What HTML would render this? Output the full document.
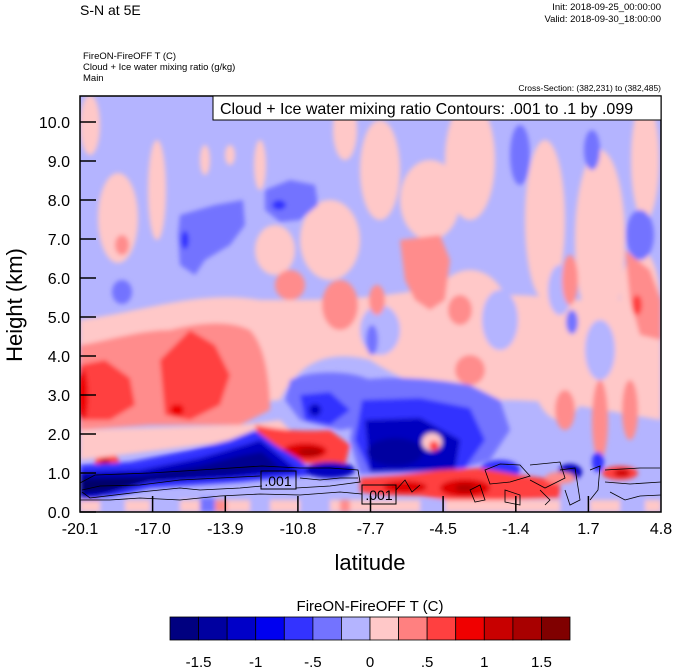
<!DOCTYPE html>
<html><head><meta charset="utf-8"><style>
body{margin:0;background:#fff;}
svg{display:block;font-family:"Liberation Sans",Arial,sans-serif;}
</style></head><body>
<svg width="674" height="668" viewBox="0 0 674 668" xmlns="http://www.w3.org/2000/svg">
<defs>
<clipPath id="pc"><rect x="80" y="96" width="581" height="416"/></clipPath>
<filter id="bl" x="-5%" y="-5%" width="110%" height="110%"><feGaussianBlur stdDeviation="2.5"/></filter>
</defs>
<g clip-path="url(#pc)">
<rect x="80" y="96" width="581" height="416" fill="#b4b4ff"/>
<g filter="url(#bl)">
<ellipse cx="90" cy="125" rx="10" ry="30" fill="#ffc8c8"/>
<ellipse cx="157" cy="190" rx="9" ry="50" fill="#ffc8c8"/>
<ellipse cx="118" cy="218" rx="20" ry="45" fill="#ffc8c8"/>
<ellipse cx="122" cy="245" rx="7" ry="10" fill="#ff8c8c"/>
<ellipse cx="205" cy="160" rx="5" ry="15" fill="#ffc8c8"/>
<ellipse cx="230" cy="155" rx="5" ry="10" fill="#ffc8c8"/>
<ellipse cx="260" cy="165" rx="6" ry="25" fill="#ffc8c8"/>
<ellipse cx="275" cy="250" rx="20" ry="25" fill="#ffc8c8"/>
<ellipse cx="330" cy="240" rx="30" ry="40" fill="#ffc8c8"/>
<ellipse cx="345" cy="130" rx="12" ry="30" fill="#ffc8c8"/>
<ellipse cx="380" cy="170" rx="20" ry="50" fill="#ffc8c8"/>
<ellipse cx="430" cy="200" rx="30" ry="40" fill="#ffc8c8"/>
<ellipse cx="470" cy="160" rx="25" ry="60" fill="#ffc8c8"/>
<ellipse cx="545" cy="220" rx="20" ry="80" fill="#ffc8c8"/>
<ellipse cx="600" cy="240" rx="25" ry="90" fill="#ffc8c8"/>
<ellipse cx="645" cy="160" rx="14" ry="60" fill="#ffc8c8"/>
<ellipse cx="640" cy="300" rx="20" ry="50" fill="#ffc8c8"/>
<path d="M80 320 C150 310 200 290 260 300 C320 300 360 300 420 290 C480 300 520 290 560 300 C600 300 640 300 661 300 L661 420 C600 410 560 400 500 400 C450 400 400 380 370 360 C330 350 300 360 280 400 L80 420 Z" fill="#ffc8c8"/>
<ellipse cx="470" cy="320" rx="40" ry="50" fill="#ffc8c8"/>
<ellipse cx="560" cy="360" rx="30" ry="60" fill="#ffc8c8"/>
<ellipse cx="500" cy="320" rx="18" ry="30" fill="#b4b4ff"/>
<ellipse cx="380" cy="330" rx="20" ry="25" fill="#b4b4ff"/>
<ellipse cx="600" cy="350" rx="15" ry="30" fill="#b4b4ff"/>
<ellipse cx="560" cy="290" rx="12" ry="25" fill="#b4b4ff"/>
<path d="M400 240 L440 235 L450 260 L445 300 L430 310 L415 300 L405 280 Z" fill="#ff8c8c"/>
<ellipse cx="460" cy="310" rx="12" ry="15" fill="#ff8c8c"/>
<ellipse cx="570" cy="280" rx="8" ry="25" fill="#ff8c8c"/>
<path d="M625 250 L650 270 L661 300 L661 340 L640 335 L630 300 Z" fill="#ff8c8c"/>
<ellipse cx="637" cy="305" rx="5" ry="10" fill="#ff4040"/>
<ellipse cx="600" cy="420" rx="8" ry="40" fill="#ff8c8c"/>
<ellipse cx="630" cy="410" rx="8" ry="30" fill="#ff8c8c"/>
<ellipse cx="565" cy="410" rx="10" ry="20" fill="#ff8c8c"/>
<ellipse cx="470" cy="370" rx="15" ry="15" fill="#ff8c8c"/>
<ellipse cx="377" cy="300" rx="8" ry="15" fill="#ff8c8c"/>
<ellipse cx="290" cy="285" rx="15" ry="15" fill="#ff8c8c"/>
<ellipse cx="340" cy="305" rx="18" ry="25" fill="#ff8c8c"/>
<path d="M180 215 L215 205 L243 200 L245 225 L230 245 L205 260 L195 275 L180 265 L178 235 Z" fill="#7373ff"/>
<ellipse cx="185" cy="240" rx="4" ry="9" fill="#3030ff"/>
<path d="M265 190 L290 180 L315 185 L318 205 L300 220 L280 222 L265 210 Z" fill="#7373ff"/>
<ellipse cx="279" cy="205" rx="7" ry="5" fill="#3030ff"/>
<ellipse cx="122" cy="292" rx="10" ry="12" fill="#7373ff"/>
<ellipse cx="520" cy="155" rx="10" ry="30" fill="#7373ff"/>
<ellipse cx="592" cy="150" rx="8" ry="20" fill="#7373ff"/>
<ellipse cx="640" cy="235" rx="14" ry="25" fill="#7373ff"/>
<ellipse cx="572" cy="322" rx="6" ry="12" fill="#7373ff"/>
<ellipse cx="372" cy="340" rx="6" ry="15" fill="#7373ff"/>
<path d="M80 345 C110 340 140 330 170 330 C200 322 230 320 250 330 C265 345 270 380 270 410 L240 425 L150 425 L80 430 Z" fill="#ff8c8c"/>
<path d="M80 365 L105 360 L130 378 L135 405 L110 420 L80 420 Z" fill="#ff4040"/>
<path d="M160 360 L190 330 L215 345 L230 375 L220 405 L190 420 L165 415 Z" fill="#ff4040"/>
<ellipse cx="177" cy="410" rx="7" ry="6" fill="#ee0000"/>
<ellipse cx="83" cy="395" rx="5" ry="25" fill="#ee0000"/>
<ellipse cx="107" cy="462" rx="12" ry="9" fill="#ff4040"/>
<ellipse cx="105" cy="462" rx="5" ry="4" fill="#c80000"/>
<ellipse cx="140" cy="445" rx="20" ry="6" fill="#b4b4ff"/>
<path d="M80 430 L240 425 L280 420 L300 440 L260 440 L200 445 L80 460 Z" fill="#ffc8c8"/>
<path d="M290 380 C310 370 350 370 370 380 L380 400 L370 425 L340 430 L300 420 L285 400 Z" fill="#7373ff"/>
<path d="M300 395 L330 392 L350 410 L330 425 L305 420 Z" fill="#3030ff"/>
<ellipse cx="315" cy="410" rx="6" ry="6" fill="#0000c0"/>
<path d="M360 380 C400 375 440 380 470 385 L500 400 L510 430 L490 460 L450 472 L360 474 L350 440 Z" fill="#7373ff"/>
<path d="M362 400 L420 398 L470 408 L485 440 L465 468 L370 472 L355 440 Z" fill="#3030ff"/>
<path d="M365 420 L420 418 L460 440 L455 470 L370 472 Z" fill="#0000c0"/>
<ellipse cx="395" cy="452" rx="28" ry="14" fill="#0000a0"/>
<ellipse cx="432" cy="442" rx="10" ry="9" fill="#ffc8c8"/>
<ellipse cx="434" cy="446" rx="5" ry="5" fill="#ff4040"/>
<ellipse cx="500" cy="470" rx="20" ry="10" fill="#3030ff"/>
<ellipse cx="570" cy="472" rx="12" ry="8" fill="#0000c0"/>
<ellipse cx="598" cy="462" rx="6" ry="10" fill="#3030ff"/>
<path d="M255 425 C280 430 300 432 330 430 L350 445 L345 465 L300 463 L270 455 L260 440 Z" fill="#ff4040"/>
<ellipse cx="305" cy="451" rx="22" ry="8" fill="#e00000"/>
<ellipse cx="310" cy="452" rx="12" ry="4" fill="#b00000"/>
<path d="M80 465 L130 462 L190 450 L230 440 L255 430 L275 445 L300 460 L315 475 L240 482 L150 488 L100 500 L80 502 Z" fill="#3030ff"/>
<path d="M80 472 L140 470 L200 458 L245 445 L260 440 L285 460 L300 472 L230 478 L150 482 L100 496 L80 498 Z" fill="#0000c0"/>
<path d="M80 476 L140 476 L200 466 L240 456 L262 452 L280 468 L230 475 L150 480 L110 492 L80 495 Z" fill="#000090"/>
<path d="M82 480 L150 478 L200 470 L165 478 L100 490 L82 492 Z" fill="#00006a"/>
<ellipse cx="330" cy="470" rx="25" ry="8" fill="#0000c0"/>
<path d="M360 478 L400 475 L440 470 L480 468 L520 475 L560 480 L560 498 L500 500 L460 502 L420 496 L380 495 L360 492 Z" fill="#ff4040"/>
<ellipse cx="465" cy="488" rx="25" ry="9" fill="#e00000"/>
<ellipse cx="465" cy="488" rx="10" ry="4" fill="#b00000"/>
<ellipse cx="405" cy="487" rx="22" ry="6" fill="#e00000"/>
<ellipse cx="620" cy="473" rx="18" ry="7" fill="#ff4040"/>
<ellipse cx="622" cy="473" rx="8" ry="4" fill="#d00000"/>
<ellipse cx="560" cy="478" rx="15" ry="6" fill="#ff8c8c"/>
<rect x="80" y="500" width="581" height="12" fill="#ffc8c8"/>
<rect x="100" y="498" width="25" height="14" fill="#b4b4ff"/>
<rect x="150" y="498" width="30" height="14" fill="#b4b4ff"/>
<rect x="200" y="498" width="15" height="14" fill="#7373ff"/>
<rect x="250" y="498" width="20" height="14" fill="#b4b4ff"/>
<rect x="215" y="500" width="12" height="12" fill="#ff8c8c"/>
<rect x="300" y="498" width="30" height="14" fill="#b4b4ff"/>
<rect x="340" y="500" width="10" height="12" fill="#ff8c8c"/>
<rect x="420" y="500" width="25" height="12" fill="#b4b4ff"/>
<rect x="560" y="495" width="30" height="17" fill="#b4b4ff"/>
<rect x="620" y="495" width="25" height="17" fill="#b4b4ff"/>
</g>
<g fill="none" stroke="#000" stroke-width="0.8">
<path d="M80 483 L95 475 L150 473 L200 470 L262 466 L300 468 L330 468 L358 470 L360 482 L330 486 L296 488"/>
<path d="M80 500 L110 500 L140 498 L180 500 L220 496 L260 494 L300 495 L340 492 L362 494"/>
<path d="M82 490 L100 486 L140 485 L180 480 L260 476 M82 492 L90 498 L140 492 L180 488 L200 490 L240 488 L262 486"/>
<path d="M300 478 L320 480 L340 478 L358 478"/>
<path d="M396 490 L405 480 L412 492 L420 485"/>
<path d="M485 470 L500 464 L520 465 L530 476 L510 482 L490 484 L485 470 Z"/>
<path d="M470 490 L480 485 L485 500 L475 502 Z"/>
<path d="M530 465 L560 462 L565 478 L545 488 L530 480"/>
<path d="M560 470 L575 468 L580 500 L570 505 L565 490"/>
<path d="M590 470 L600 466 L598 490 L590 500"/>
<path d="M605 470 L640 468 L660 468 M605 482 L630 484 L661 482"/>
<path d="M505 490 L520 495 L520 505 L505 502 Z"/>
<path d="M540 490 L550 500 L545 505"/>
<path d="M610 492 L625 500 L640 496 L661 495"/>
</g>
</g>
<rect x="261" y="471" width="35" height="18" fill="none" stroke="#000" stroke-width="1"/>
<text x="278" y="486" font-size="14" text-anchor="middle">.001</text>
<rect x="362" y="485" width="34" height="19" fill="none" stroke="#000" stroke-width="1"/>
<text x="379" y="500" font-size="14" text-anchor="middle">.001</text>
<rect x="80" y="96" width="581" height="416" fill="none" stroke="#000" stroke-width="1.5"/>
<rect x="213" y="96" width="448" height="24" fill="#fff" stroke="#000" stroke-width="1"/>
<text x="220" y="114" font-size="16">Cloud + Ice water mixing ratio Contours: .001 to .1 by .099</text>
<g stroke="#000" stroke-width="1.5">
<line x1="80" y1="512" x2="96" y2="512"/><line x1="80" y1="473" x2="96" y2="473"/>
<line x1="80" y1="434" x2="96" y2="434"/><line x1="80" y1="395" x2="96" y2="395"/>
<line x1="80" y1="356" x2="96" y2="356"/><line x1="80" y1="317" x2="96" y2="317"/>
<line x1="80" y1="278" x2="96" y2="278"/><line x1="80" y1="239" x2="96" y2="239"/>
<line x1="80" y1="200" x2="96" y2="200"/><line x1="80" y1="161" x2="96" y2="161"/>
<line x1="80" y1="122" x2="96" y2="122"/>
<line x1="152.6" y1="512" x2="152.6" y2="496"/><line x1="225.3" y1="512" x2="225.3" y2="496"/>
<line x1="297.9" y1="512" x2="297.9" y2="496"/><line x1="370.5" y1="512" x2="370.5" y2="496"/>
<line x1="443.1" y1="512" x2="443.1" y2="496"/><line x1="515.8" y1="512" x2="515.8" y2="496"/>
<line x1="588.4" y1="512" x2="588.4" y2="496"/>
</g>
<g font-size="16" text-anchor="end">
<text x="70" y="518">0.0</text><text x="70" y="479">1.0</text><text x="70" y="440">2.0</text>
<text x="70" y="401">3.0</text><text x="70" y="362">4.0</text><text x="70" y="323">5.0</text>
<text x="70" y="284">6.0</text><text x="70" y="245">7.0</text><text x="70" y="206">8.0</text>
<text x="70" y="167">9.0</text><text x="70" y="128">10.0</text>
</g>
<g font-size="16" text-anchor="middle">
<text x="80" y="534">-20.1</text><text x="152.6" y="534">-17.0</text><text x="225.3" y="534">-13.9</text>
<text x="297.9" y="534">-10.8</text><text x="370.5" y="534">-7.7</text><text x="443.1" y="534">-4.5</text>
<text x="515.8" y="534">-1.4</text><text x="588.4" y="534">1.7</text><text x="661" y="534">4.8</text>
</g>
<text x="370" y="570" font-size="22" text-anchor="middle">latitude</text>
<text transform="translate(22,305) rotate(-90)" font-size="22" text-anchor="middle">Height (km)</text>
<text x="80" y="15" font-size="14">S-N at 5E</text>
<text x="661" y="10" font-size="9.5" text-anchor="end">Init: 2018-09-25_00:00:00</text>
<text x="661" y="22" font-size="9.5" text-anchor="end">Valid: 2018-09-30_18:00:00</text>
<text x="83" y="59" font-size="9.5">FireON-FireOFF T   (C)</text>
<text x="83" y="70" font-size="9.5">Cloud + Ice water mixing ratio   (g/kg)</text>
<text x="83" y="81" font-size="9.5">Main</text>
<text x="661" y="91" font-size="8.5" text-anchor="end">Cross-Section: (382,231) to (382,485)</text>
<text x="370" y="611" font-size="15" text-anchor="middle">FireON-FireOFF T  (C)</text>
<g stroke="#000" stroke-width="0.8">
<rect x="170" y="617" width="28.6" height="23" fill="#000080"/>
<rect x="198.6" y="617" width="28.6" height="23" fill="#0000a0"/>
<rect x="227.1" y="617" width="28.6" height="23" fill="#0000c8"/>
<rect x="255.7" y="617" width="28.6" height="23" fill="#0000f0"/>
<rect x="284.3" y="617" width="28.6" height="23" fill="#3333ff"/>
<rect x="312.9" y="617" width="28.6" height="23" fill="#7373ff"/>
<rect x="341.4" y="617" width="28.6" height="23" fill="#b4b4ff"/>
<rect x="370" y="617" width="28.6" height="23" fill="#ffc8c8"/>
<rect x="398.6" y="617" width="28.6" height="23" fill="#ff8080"/>
<rect x="427.1" y="617" width="28.6" height="23" fill="#ff4040"/>
<rect x="455.7" y="617" width="28.6" height="23" fill="#f00000"/>
<rect x="484.3" y="617" width="28.6" height="23" fill="#c80000"/>
<rect x="512.9" y="617" width="28.6" height="23" fill="#a80000"/>
<rect x="541.4" y="617" width="28.6" height="23" fill="#800000"/>
</g>
<g font-size="15" text-anchor="middle">
<text x="198.6" y="667">-1.5</text><text x="255.7" y="667">-1</text><text x="312.9" y="667">-.5</text>
<text x="370" y="667">0</text><text x="427.1" y="667">.5</text><text x="484.3" y="667">1</text><text x="541.4" y="667">1.5</text>
</g>
</svg>
</body></html>
